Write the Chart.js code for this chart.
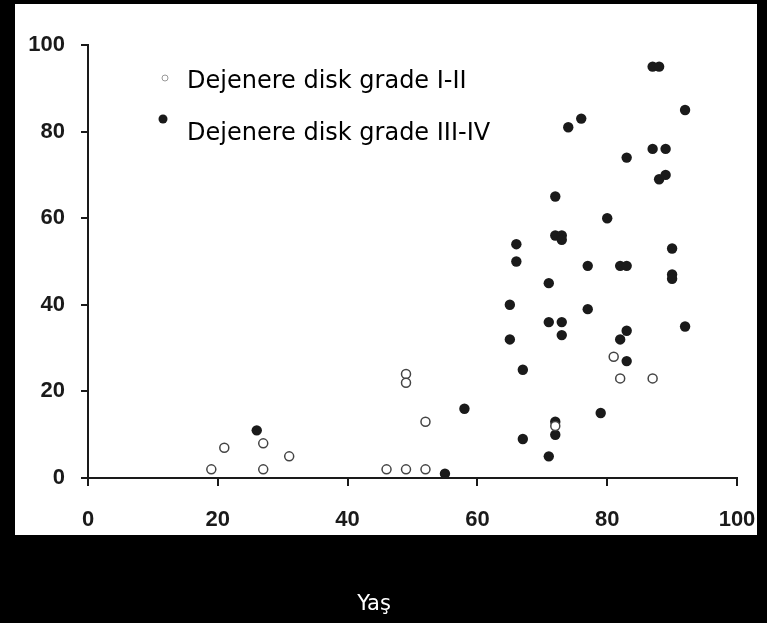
<!DOCTYPE html>
<html><head><meta charset="utf-8">
<script src="https://cdn.jsdelivr.net/npm/chart.js@4/dist/chart.umd.min.js"></script>
<style>html,body{margin:0;padding:0;background:#000;}canvas{display:block}</style>
</head><body>
<canvas id="c" width="767" height="623"></canvas>
<script>
// ---- data ----
const xTicks = [0, 20, 40, 60, 80, 100];
const yTicks = [0, 20, 40, 60, 80, 100];
const seriesLabels = ['Dejenere disk grade I-II', 'Dejenere disk grade III-IV'];
const xAxisTitle = 'Yaş';

// grade I-II (open circles)
const grade12Age = [19, 21, 27, 27, 31, 46, 49, 52, 49, 49, 52, 72, 81, 82, 87];
const grade12Val = [ 2,  7,  8,  2,  5,  2,  2,  2, 24, 22, 13, 12, 28, 23, 23];

// grade III-IV (filled circles)
const grade34Age = [26, 55, 58, 65, 65, 66, 66, 67, 67, 71, 71, 71, 72, 72, 73, 73, 73, 73, 72, 72,
                    74, 76, 77, 77, 79, 80, 82, 83, 83, 83, 82, 83, 87, 88, 87, 89, 88, 89, 90, 90, 90, 92, 92];
const grade34Val = [11,  1, 16, 40, 32, 54, 50, 25,  9, 45, 36,  5, 65, 56, 56, 55, 36, 33, 13, 10,
                    81, 83, 49, 39, 15, 60, 49, 49, 74, 34, 32, 27, 95, 95, 76, 76, 69, 70, 53, 47, 46, 35, 85];

const toPoints = (xs, ys) => xs.map((x, i) => ({x: x, y: ys[i]}));

const deco = {
  id: 'deco',
  beforeDraw(chart) {
    const ctx = chart.ctx;
    ctx.save();
    ctx.fillStyle = '#000';
    ctx.fillRect(0, 0, chart.width, chart.height);
    ctx.fillStyle = '#fff';
    ctx.fillRect(15, 4, 742, 531);
    ctx.restore();
  },
  afterDraw(chart) {
    const ctx = chart.ctx;
    const ds = chart.data.datasets;
    ctx.save();
    // legend markers
    ctx.beginPath();
    ctx.arc(165, 78, 3, 0, Math.PI * 2);
    ctx.fillStyle = '#fff';
    ctx.fill();
    ctx.lineWidth = 1;
    ctx.strokeStyle = '#999';
    ctx.stroke();
    ctx.beginPath();
    ctx.arc(163, 119, 4.5, 0, Math.PI * 2);
    ctx.fillStyle = ds[1].backgroundColor;
    ctx.fill();
    // legend texts
    ctx.fillStyle = '#000';
    ctx.font = '24px "DejaVu Sans"';
    ctx.textAlign = 'left';
    ctx.textBaseline = 'alphabetic';
    ctx.fillText(ds[0].label, 187, 88);
    ctx.fillText(ds[1].label, 187, 140);
    // axis title
    ctx.fillStyle = '#fff';
    ctx.font = '21px "DejaVu Sans"';
    ctx.textAlign = 'center';
    ctx.fillText(xAxisTitle, 374, 610);
    ctx.restore();
  }
};

new Chart(document.getElementById('c'), {
  type: 'scatter',
  data: {
    datasets: [
      {
        label: seriesLabels[0],
        data: toPoints(grade12Age, grade12Val),
        pointRadius: 4.5,
        pointBackgroundColor: '#fff',
        backgroundColor: '#fff',
        borderColor: '#444',
        pointBorderColor: '#444',
        pointBorderWidth: 1.5,
        clip: false
      },
      {
        label: seriesLabels[1],
        data: toPoints(grade34Age, grade34Val),
        pointRadius: 5.2,
        pointBackgroundColor: '#1a1a1a',
        backgroundColor: '#1a1a1a',
        borderColor: '#1a1a1a',
        pointBorderWidth: 0,
        clip: false
      }
    ]
  },
  options: {
    responsive: false,
    animation: false,
    devicePixelRatio: 1,
    layout: { padding: { top: 45, right: 30, left: 0, bottom: 0 } },
    plugins: { legend: { display: false }, tooltip: { enabled: false } },
    scales: {
      x: {
        type: 'linear', min: 0, max: 100,
        afterBuildTicks: s => { s.ticks = xTicks.map(v => ({value: v})); },
        afterFit: s => { s.height = 145; s.paddingLeft = 0; s.paddingRight = 0; },
        ticks: { color: '#1a1a1a', font: { family: 'Liberation Sans', size: 22, weight: 'bold' }, padding: 21 },
        grid: { display: true, drawOnChartArea: false, drawTicks: true, tickLength: 8, color: '#1a1a1a', lineWidth: 2 },
        border: { display: true, color: '#1a1a1a', width: 2 }
      },
      y: {
        type: 'linear', min: 0, max: 100,
        afterBuildTicks: s => { s.ticks = yTicks.map(v => ({value: v})); },
        afterFit: s => { s.width = 88; s.paddingTop = 0; s.paddingBottom = 0; },
        ticks: { color: '#1a1a1a', font: { family: 'Liberation Sans', size: 22, weight: 'bold' }, padding: 16 },
        grid: { display: true, drawOnChartArea: false, drawTicks: true, tickLength: 7, color: '#1a1a1a', lineWidth: 2 },
        border: { display: true, color: '#1a1a1a', width: 2 }
      }
    }
  },
  plugins: [deco]
});
</script>
</body></html>
